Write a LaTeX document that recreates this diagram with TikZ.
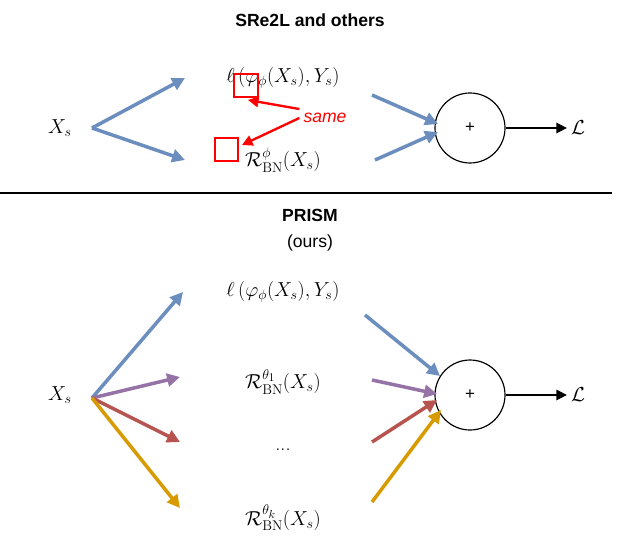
\documentclass[tikz,border=0pt]{standalone}
\usepackage{fontspec}
\setsansfont{Liberation Sans}
\usepackage{amsmath, amssymb}
\usetikzlibrary{arrows.meta, positioning, calc}
\definecolor{cblue}{RGB}{108,142,191}
\definecolor{cpurple}{RGB}{150,115,166}
\definecolor{cred}{RGB}{184,84,80}
\definecolor{cgold}{RGB}{215,155,0}
\newcommand{\RBN}[1]{\mathcal{R}_{\mathrm{BN}}^{#1}(X_s)}
\begin{document}
\begin{tikzpicture}[x=0.03cm, y=-0.03cm,
        flow/.style={line width=3pt, -{Triangle[length=11pt, width=11pt]}},
        term/.style={font=\LARGE},
        sum/.style={draw, circle, line width=1pt, minimum size=2.1cm, font=\sffamily\Large},
        head/.style={font=\sffamily\bfseries\fontsize{15}{18}\selectfont}
    ]
        \useasboundingbox (0,0) rectangle (621,540);

        % Upper part
        \node[head] (title) at (310,20) {SRe2L and others};
        \node[term] (xa) at (60,128) {$X_s$};
        \node[term] (la) at (283,78) {$\ell\left(\varphi_{\phi}(X_s),Y_s\right)$};
        \node[term] (ra) at (283,160) {$\RBN{\phi}$};
        \node[sum] (sa) at (470,128) {+};
        \node[term] (oa) at (578,128) {$\mathcal{L}$};
        \draw[flow, cblue] (92,128) -- (185,78);
        \draw[flow, cblue] (92,128) -- (185,160);
        \draw[flow, cblue] (372,95) -- (438,124);
        \draw[flow, cblue] (375,160) -- (438,132);
        \draw[line width=1.2pt, -{Triangle[length=9pt, width=9pt]}] (sa.east) -- (oa.west);

        % same phi marks
        \draw[red, line width=1pt] (234,74) rectangle (258,97) coordinate (pa);
        \draw[red, line width=1pt] (215,138) rectangle (238,161) coordinate (pb);
        \node[red, font=\sffamily\itshape\fontsize{15}{18}\selectfont] (same) at (325,118) {same};
        \draw[red, line width=2pt, -{Triangle[length=9pt, width=9pt]}] (same.north west) -- (248,100);
        \draw[red, line width=2pt, -{Triangle[length=9pt, width=9pt]}] (same.west) -- (242,145);

        % Divider
        \draw[line width=1pt] (0,193) -- (612,193);

        % Lower part
        \node[head] (prism) at (310,215) {PRISM};
        \node[font=\sffamily\fontsize{15}{18}\selectfont] (ours) at (310,243) {(ours)};
        \node[term] (xb) at (60,395) {$X_s$};
        \node[term] (lb) at (283,292) {$\ell\left(\varphi_{\phi}(X_s),Y_s\right)$};
        \node[term] (r1) at (283,382) {$\RBN{\theta_1}$};
        \node[term] (dots) at (283,450) {...};
        \node[term] (rk) at (283,518) {$\RBN{\theta_k}$};
        \node[sum] (sb) at (470,395) {+};
        \node[term] (ob) at (578,395) {$\mathcal{L}$};
        \coordinate (root) at (92,398);
        \draw[flow, cblue] (root) -- (183,292);
        \draw[flow, cpurple] (root) -- (180,377);
        \draw[flow, cred] (root) -- (180,442);
        \draw[flow, cgold] (root) -- (180,508);
        \draw[flow, cblue] (365,315) -- (440,376);
        \draw[flow, cpurple] (372,380) -- (437,394);
        \draw[flow, cred] (372,442) -- (437,400);
        \draw[flow, cgold] (372,502) -- (441,410);
        \draw[line width=1.2pt, -{Triangle[length=9pt, width=9pt]}] (sb.east) -- (ob.west);
\end{tikzpicture}
\end{document}
